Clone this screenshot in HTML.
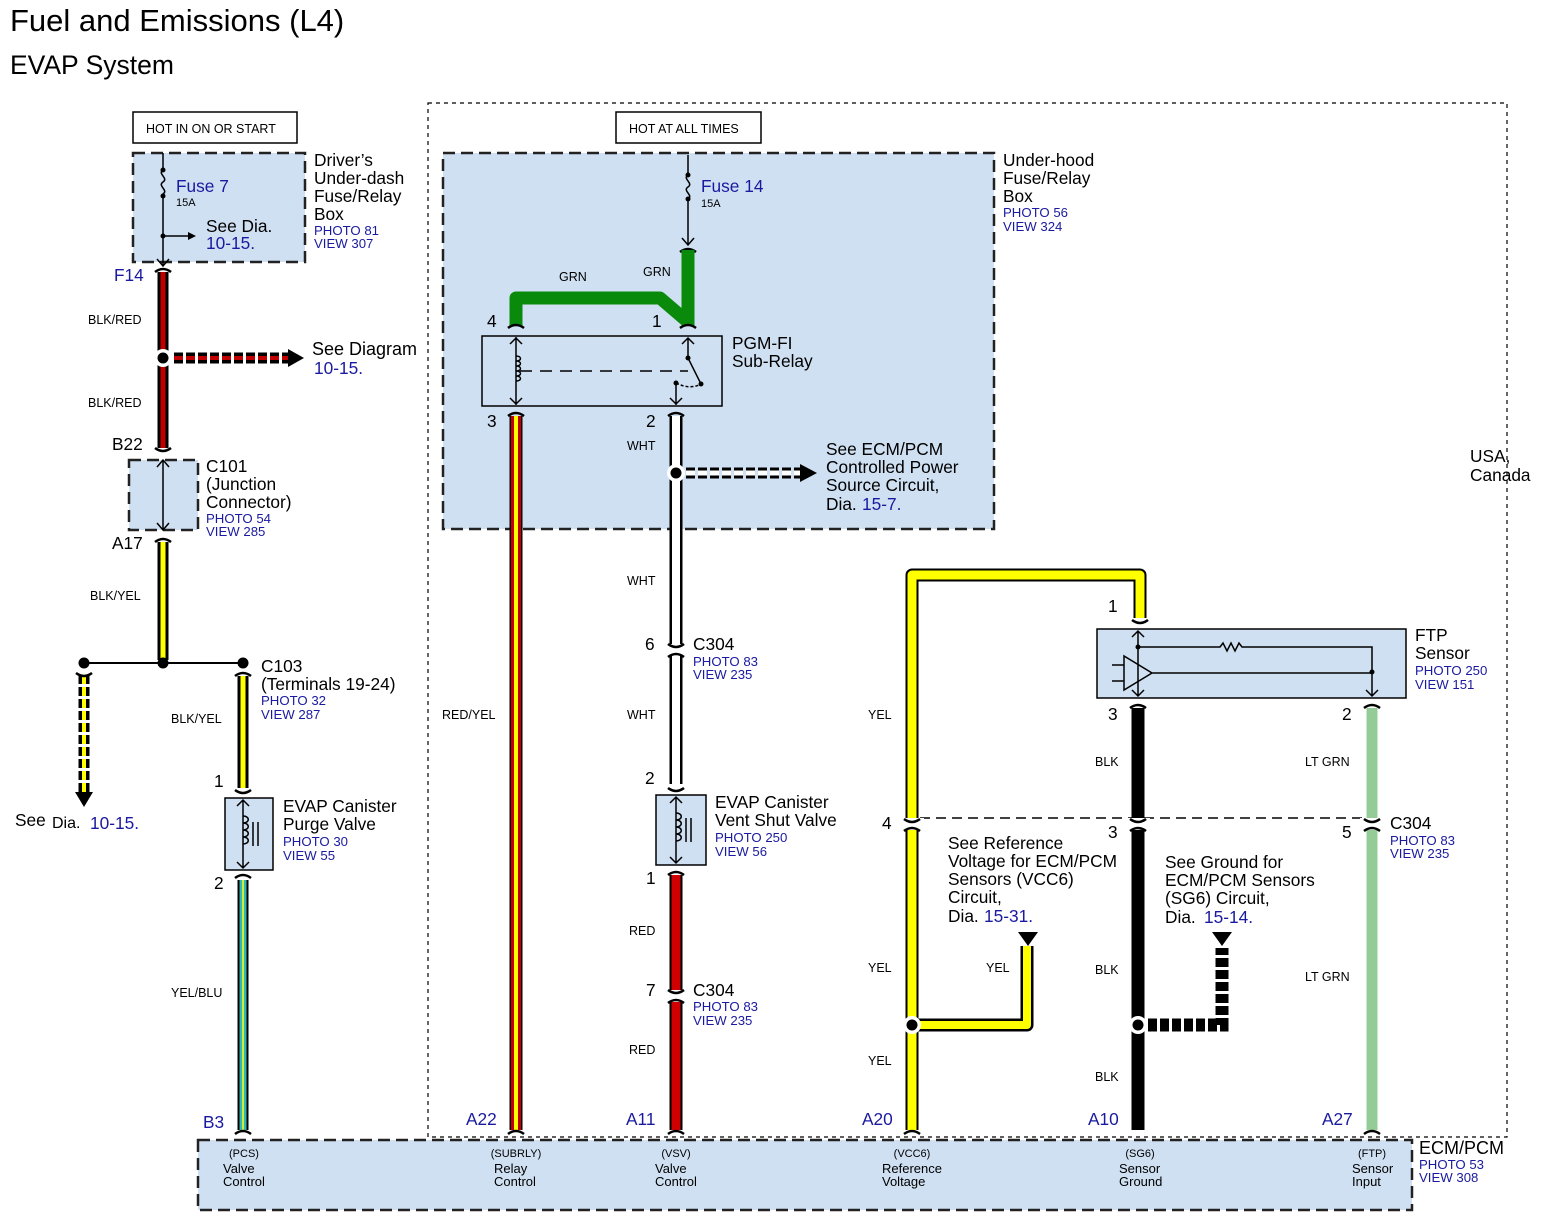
<!DOCTYPE html>
<html><head><meta charset="utf-8"><style>
html,body{margin:0;padding:0;background:#fff}
svg{display:block}
text{font-family:"Liberation Sans",Arial,sans-serif;fill:#000}
.b{fill:#1a1aa0}
.s{font-size:12.5px}
.m{font-size:17.3px}
.w{font-size:12.5px}
.p{font-size:13.2px;fill:#1a1aa0}
.box{fill:#cfe0f2;stroke:#222;stroke-width:2.5;stroke-dasharray:12 6}
.c{fill:none;stroke:#000;stroke-width:2.5}
.t{fill:none;stroke:#000;stroke-width:1.5}
</style></head><body>
<svg width="1542" height="1223" viewBox="0 0 1542 1223" xmlns="http://www.w3.org/2000/svg">
<text x="10" y="31" style="font-size:31px">Fuel and Emissions (L4)</text>
<text x="10" y="74" style="font-size:26.5px">EVAP System</text>

<rect x="428" y="103" width="1079" height="1034" fill="none" stroke="#000" stroke-width="1.2" stroke-dasharray="4 4"/>
<text x="1470" y="462" class="m">USA,</text><text x="1470" y="481" class="m">Canada</text>

<rect x="133" y="112" width="164" height="31" fill="#fff" stroke="#000" stroke-width="1.5"/>
<text x="146" y="133" class="s">HOT IN ON OR START</text>
<rect x="616" y="112" width="145" height="31" fill="#fff" stroke="#000" stroke-width="1.5"/>
<text x="629" y="133" class="s">HOT AT ALL TIMES</text>

<rect x="133" y="153" width="172" height="109" class="box"/>
<rect x="443" y="153" width="551" height="376" class="box"/>
<rect x="129" y="460" width="69" height="70" class="box"/>
<rect x="198" y="1140" width="1214" height="70" class="box"/>

<path d="M163 153 V170 c-6 4 6 8 0 12 c-6 4 6 8 0 12 V266" class="t"/>
<path d="M157 259 l6 7 l6 -7" class="t"/>
<circle cx="163" cy="170" r="2.5"/><circle cx="163" cy="196" r="2.5"/><circle cx="163" cy="236" r="2.5"/>
<path d="M163 236 H190" class="t"/><path d="M188 232 l8 4 l-8 4z"/>
<text x="176" y="192" class="m b">Fuse 7</text><text x="176" y="206" style="font-size:11px">15A</text>
<text x="206" y="232" class="m">See Dia.</text><text x="206" y="249" class="m b">10-15.</text>
<text x="314" y="166" class="m">Driver’s</text><text x="314" y="184" class="m">Under-dash</text><text x="314" y="202" class="m">Fuse/Relay</text><text x="314" y="220" class="m">Box</text>
<text x="314" y="235" class="p">PHOTO 81</text><text x="314" y="248" class="p">VIEW 307</text>

<path d="M163 272 V448" stroke="#000" stroke-width="11"/><path d="M163 272 V448" stroke="#c00000" stroke-width="5"/>
<path d="M155 272 Q163 266 171 272 M155 448 Q163 454 171 448" class="c"/>
<text x="114" y="281" class="m b">F14</text>
<text x="88" y="324" class="w">BLK/RED</text><text x="88" y="407" class="w">BLK/RED</text>
<text x="112" y="450" class="m">B22</text>
<circle cx="163" cy="358" r="9" fill="#fff"/><circle cx="163" cy="358" r="5.5" fill="#000"/>
<path d="M174 358 H290" stroke="#000" stroke-width="11" stroke-dasharray="9 3"/><path d="M174 358 H290" stroke="#c00000" stroke-width="4" stroke-dasharray="9 3"/>
<path d="M288 349 l16 9 l-16 9z"/>
<text x="312" y="355" class="m" style="font-size:18px">See Diagram</text><text x="314" y="374" class="m b">10-15.</text>
<path d="M163 460 V530" class="t"/><path d="M157 467 l6 -7 l6 7 M157 523 l6 7 l6 -7" class="t"/>
<text x="206" y="472" class="m">C101</text><text x="206" y="490" class="m">(Junction</text><text x="206" y="508" class="m">Connector)</text>
<text x="206" y="523" class="p">PHOTO 54</text><text x="206" y="536" class="p">VIEW 285</text>
<text x="112" y="549" class="m">A17</text>
<path d="M163 542 V660" stroke="#000" stroke-width="11"/><path d="M163 542 V660" stroke="#ffff00" stroke-width="5"/>
<path d="M155 542 Q163 536 171 542" class="c"/>
<text x="90" y="600" class="w">BLK/YEL</text>
<path d="M84 663 H243" stroke="#000" stroke-width="2"/>
<circle cx="84" cy="663" r="5.5"/><circle cx="163" cy="663" r="5.5"/><circle cx="243" cy="663" r="5.5"/>
<path d="M84 675 V792" stroke="#000" stroke-width="11" stroke-dasharray="9 3"/><path d="M84 675 V792" stroke="#ffff00" stroke-width="4" stroke-dasharray="9 3"/>
<path d="M76 673 Q84 679 92 673" class="c"/>
<path d="M75 792 l9 15 l9 -15z"/>
<text x="15" y="826" class="m">See</text><text x="52" y="828" style="font-size:16px">Dia.</text><text x="90" y="829" class="m b">10-15.</text>
<path d="M243 676 V788" stroke="#000" stroke-width="11"/><path d="M243 676 V788" stroke="#ffff00" stroke-width="5"/>
<path d="M235 676 Q243 670 251 676 M235 790 Q243 796 251 790" class="c"/>
<text x="261" y="672" class="m">C103</text><text x="261" y="690" class="m">(Terminals 19-24)</text>
<text x="261" y="705" class="p">PHOTO 32</text><text x="261" y="719" class="p">VIEW 287</text>
<text x="171" y="723" class="w">BLK/YEL</text>
<text x="214" y="787" class="m">1</text>
<rect x="225" y="798" width="48" height="72" fill="#cfe0f2" stroke="#000" stroke-width="1.5"/>
<path d="M243 800 V868 M237 806 l6 -6 l6 6 M237 862 l6 6 l6 -6" class="t"/>
<path d="M243 816 c7 0 7 7 0 7 c7 0 7 7 0 7 c7 0 7 7 0 7 c7 0 7 7 0 7" class="t"/>
<path d="M253 822 V846 M258 822 V846" class="t"/>
<text x="283" y="812" class="m">EVAP Canister</text><text x="283" y="830" class="m">Purge Valve</text>
<text x="283" y="846" class="p">PHOTO 30</text><text x="283" y="860" class="p">VIEW 55</text>
<text x="214" y="889" class="m">2</text>
<path d="M243 880 V1130" stroke="#000" stroke-width="11"/><path d="M243 880 V1130" stroke="#2db8b0" stroke-width="7"/><path d="M243 880 V1130" stroke="#d8e83a" stroke-width="2"/>
<path d="M235 878 Q243 872 251 878 M235 1134 Q243 1128 251 1134" class="c"/>
<text x="171" y="997" class="w">YEL/BLU</text>
<text x="203" y="1128" class="m b">B3</text>

<path d="M688 155 V175 c-6 4 6 8 0 12 c-6 4 6 8 0 12 V245" class="t"/>
<path d="M682 238 l6 7 l6 -7" class="t"/>
<circle cx="688" cy="175" r="2.5"/><circle cx="688" cy="199" r="2.5"/>
<text x="701" y="192" class="m b">Fuse 14</text><text x="701" y="207" style="font-size:11px">15A</text>
<text x="1003" y="166" class="m">Under-hood</text><text x="1003" y="184" class="m">Fuse/Relay</text><text x="1003" y="202" class="m">Box</text>
<text x="1003" y="217" class="p">PHOTO 56</text><text x="1003" y="231" class="p">VIEW 324</text>
<path d="M680 252 Q688 246 696 252" class="c"/>
<path d="M688 250 V326 M516 326 V298 H660 L688 322" fill="none" stroke="#0a8a0a" stroke-width="13" stroke-linejoin="round"/>
<path d="M508 328 Q516 322 524 328 M680 328 Q688 322 696 328" class="c"/>
<text x="559" y="281" class="w">GRN</text><text x="643" y="276" class="w">GRN</text>
<text x="487" y="327" class="m">4</text><text x="652" y="327" class="m">1</text>
<rect x="482" y="336" width="240" height="70" fill="none" stroke="#000" stroke-width="1.5"/>
<path d="M516 337 V405 M510 344 l6 -6 l6 6 M510 398 l6 6 l6 -6" class="t"/>
<path d="M516 356 c6 0 6 5 0 5 c6 0 6 5 0 5 c6 0 6 5 0 5 c6 0 6 5 0 5 c6 0 6 5 0 5" class="t"/>
<path d="M520 371 H688" class="t" stroke-dasharray="12 8"/>
<path d="M688 338 V358 L701 384 M682 344 l6 -6 l6 6" class="t"/>
<circle cx="688" cy="358" r="2.5"/><circle cx="701" cy="384" r="2.5"/><circle cx="676" cy="383" r="2.5"/>
<path d="M676 383 Q690 390 701 384" class="t" stroke-dasharray="3 2"/>
<path d="M676 383 V405 M670 398 l6 6 l6 -6" class="t"/>
<text x="732" y="349" class="m">PGM-FI</text><text x="732" y="367" class="m">Sub-Relay</text>
<text x="487" y="427" class="m">3</text><text x="646" y="427" class="m">2</text>
<path d="M516 416 V1130" stroke="#000" stroke-width="13"/><path d="M516 416 V1130" stroke="#c00000" stroke-width="10"/><path d="M516 416 V1130" stroke="#ffff00" stroke-width="4"/>
<path d="M508 416 Q516 410 524 416 M508 1134 Q516 1128 524 1134" class="c"/>
<text x="442" y="719" class="w">RED/YEL</text>
<text x="466" y="1125" class="m b">A22</text>
<path d="M676 416 V784" stroke="#000" stroke-width="13"/><path d="M676 416 V784" stroke="#fff" stroke-width="8"/>
<path d="M668 416 Q676 410 684 416" class="c"/>
<text x="627" y="450" class="w">WHT</text><text x="627" y="585" class="w">WHT</text><text x="627" y="719" class="w">WHT</text>
<circle cx="676" cy="473" r="9" fill="#fff"/><circle cx="676" cy="473" r="5.5"/>
<path d="M686 473 H802" stroke="#000" stroke-width="11" stroke-dasharray="9 3"/><path d="M686 473 H802" stroke="#fff" stroke-width="5" stroke-dasharray="9 3"/>
<path d="M800 464 l17 9 l-17 9z"/>
<text x="826" y="455" class="m">See ECM/PCM</text><text x="826" y="473" class="m">Controlled Power</text><text x="826" y="491" class="m">Source Circuit,</text>
<text x="826" y="510" class="m">Dia.</text><text x="862" y="510" class="m b">15-7.</text>
<rect x="664" y="644" width="24" height="12" fill="#fff"/>
<path d="M668 644 Q676 650 684 644 M668 657 Q676 651 684 657" class="c"/>
<text x="645" y="650" class="m">6</text>
<text x="693" y="650" class="m">C304</text><text x="693" y="666" class="p">PHOTO 83</text><text x="693" y="679" class="p">VIEW 235</text>
<text x="645" y="784" class="m">2</text>
<path d="M668 788 Q676 794 684 788" class="c"/>
<rect x="656" y="795" width="50" height="70" fill="#cfe0f2" stroke="#000" stroke-width="1.5"/>
<path d="M676 797 V863 M670 803 l6 -6 l6 6 M670 857 l6 6 l6 -6" class="t"/>
<path d="M676 813 c7 0 7 7 0 7 c7 0 7 7 0 7 c7 0 7 7 0 7 c7 0 7 7 0 7" class="t"/>
<path d="M686 818 V842 M691 818 V842" class="t"/>
<text x="715" y="808" class="m">EVAP Canister</text><text x="715" y="826" class="m">Vent Shut Valve</text>
<text x="715" y="842" class="p">PHOTO 250</text><text x="715" y="856" class="p">VIEW 56</text>
<text x="646" y="884" class="m">1</text>
<path d="M676 875 V1130" stroke="#000" stroke-width="13"/><path d="M676 875 V1130" stroke="#d00000" stroke-width="9"/>
<path d="M668 875 Q676 869 684 875 M668 1134 Q676 1128 684 1134" class="c"/>
<rect x="664" y="990" width="24" height="12" fill="#fff"/>
<path d="M668 990 Q676 996 684 990 M668 1003 Q676 997 684 1003" class="c"/>
<text x="646" y="996" class="m">7</text>
<text x="693" y="996" class="m">C304</text><text x="693" y="1011" class="p">PHOTO 83</text><text x="693" y="1025" class="p">VIEW 235</text>
<text x="629" y="935" class="w">RED</text><text x="629" y="1054" class="w">RED</text>
<text x="626" y="1125" class="m b">A11</text>

<path d="M912 1130 V575 H1140 V618" fill="none" stroke="#000" stroke-width="13" stroke-linejoin="round"/>
<path d="M912 1130 V575 H1140 V618" fill="none" stroke="#ffff00" stroke-width="9" stroke-linejoin="round"/>
<path d="M1132 620 Q1140 626 1148 620 M904 1134 Q912 1128 920 1134" class="c"/>
<text x="1108" y="612" class="m">1</text>
<text x="868" y="719" class="w">YEL</text><text x="868" y="972" class="w">YEL</text><text x="868" y="1065" class="w">YEL</text>
<text x="862" y="1125" class="m b">A20</text>
<path d="M920 818 H1364" stroke="#000" stroke-width="1.5" stroke-dasharray="10 6"/>
<rect x="900" y="818" width="24" height="12" fill="#fff"/>
<path d="M904 819 Q912 825 920 819 M904 831 Q912 825 920 831" class="c"/>
<text x="882" y="829" class="m">4</text>
<text x="948" y="849" class="m">See Reference</text><text x="948" y="867" class="m">Voltage for ECM/PCM</text><text x="948" y="885" class="m">Sensors (VCC6)</text><text x="948" y="903" class="m">Circuit,</text>
<text x="948" y="922" class="m">Dia.</text><text x="984" y="922" class="m b">15-31.</text>
<path d="M1018 932 l10 14 l10 -14z"/>
<path d="M912 1025 H1027 V946" fill="none" stroke="#000" stroke-width="13" stroke-linejoin="round"/>
<path d="M912 1025 H1027 V946" fill="none" stroke="#ffff00" stroke-width="8" stroke-linejoin="round"/>
<circle cx="912" cy="1025" r="9" fill="#fff"/><circle cx="912" cy="1025" r="5.5"/>
<text x="986" y="972" class="w">YEL</text>

<rect x="1097" y="629" width="309" height="69" fill="#cfe0f2" stroke="#000" stroke-width="1.5"/>
<path d="M1138 631 V696 M1132 637 l6 -6 l6 6 M1132 690 l6 6 l6 -6" class="t"/>
<path d="M1138 647 H1220 l3 -4 l4 8 l4 -8 l4 8 l4 -8 l3 4 H1372 V696 M1366 690 l6 6 l6 -6" class="t"/>
<circle cx="1138" cy="647" r="2.5"/><circle cx="1372" cy="672" r="2.5"/>
<path d="M1124 656 V690 L1152 673 Z M1152 673 H1372 M1112 665 H1124 M1112 681 H1124" class="t"/>
<text x="1415" y="641" class="m">FTP</text><text x="1415" y="659" class="m">Sensor</text>
<text x="1415" y="675" class="p">PHOTO 250</text><text x="1415" y="689" class="p">VIEW 151</text>
<text x="1108" y="720" class="m">3</text><text x="1342" y="720" class="m">2</text>
<path d="M1138 708 V1130" stroke="#000" stroke-width="13"/>
<path d="M1130 708 Q1138 702 1146 708" class="c"/>
<rect x="1126" y="818" width="24" height="12" fill="#fff"/>
<path d="M1130 819 Q1138 825 1146 819 M1130 831 Q1138 825 1146 831" class="c"/>
<text x="1108" y="838" class="m">3</text>
<text x="1095" y="766" class="w">BLK</text><text x="1095" y="974" class="w">BLK</text><text x="1095" y="1081" class="w">BLK</text>
<text x="1088" y="1125" class="m b">A10</text>
<text x="1165" y="868" class="m">See Ground for</text><text x="1165" y="886" class="m">ECM/PCM Sensors</text><text x="1165" y="904" class="m">(SG6) Circuit,</text>
<text x="1165" y="923" class="m">Dia.</text><text x="1204" y="923" class="m b">15-14.</text>
<path d="M1212 932 l10 14 l10 -14z"/>
<path d="M1148 1025 H1222 V948" fill="none" stroke="#000" stroke-width="13" stroke-dasharray="9 3"/>
<circle cx="1138" cy="1025" r="9" fill="#fff"/><circle cx="1138" cy="1025" r="5.5"/>
<path d="M1372 708 V1130" stroke="#94cc98" stroke-width="11"/>
<path d="M1364 708 Q1372 702 1380 708 M1364 1134 Q1372 1128 1380 1134" class="c"/>
<rect x="1360" y="818" width="24" height="12" fill="#fff"/>
<path d="M1364 819 Q1372 825 1380 819 M1364 831 Q1372 825 1380 831" class="c"/>
<text x="1342" y="838" class="m">5</text>
<text x="1390" y="829" class="m">C304</text><text x="1390" y="845" class="p">PHOTO 83</text><text x="1390" y="858" class="p">VIEW 235</text>
<text x="1305" y="766" class="w">LT GRN</text><text x="1305" y="981" class="w">LT GRN</text>
<text x="1322" y="1125" class="m b">A27</text>

<g style="font-size:11px" text-anchor="middle">
<text x="244" y="1157">(PCS)</text>
<text x="516" y="1157">(SUBRLY)</text>
<text x="676" y="1157">(VSV)</text>
<text x="912" y="1157">(VCC6)</text>
<text x="1140" y="1157">(SG6)</text>
<text x="1372" y="1157">(FTP)</text>
</g>
<g style="font-size:13px">
<text x="223" y="1173">Valve</text><text x="223" y="1186">Control</text>
<text x="494" y="1173">Relay</text><text x="494" y="1186">Control</text>
<text x="655" y="1173">Valve</text><text x="655" y="1186">Control</text>
<text x="882" y="1173">Reference</text><text x="882" y="1186">Voltage</text>
<text x="1119" y="1173">Sensor</text><text x="1119" y="1186">Ground</text>
<text x="1352" y="1173">Sensor</text><text x="1352" y="1186">Input</text>
</g>
<text x="1419" y="1154" style="font-size:18px">ECM/PCM</text>
<text x="1419" y="1169" class="p">PHOTO 53</text><text x="1419" y="1182" class="p">VIEW 308</text>
</svg>
</body></html>
